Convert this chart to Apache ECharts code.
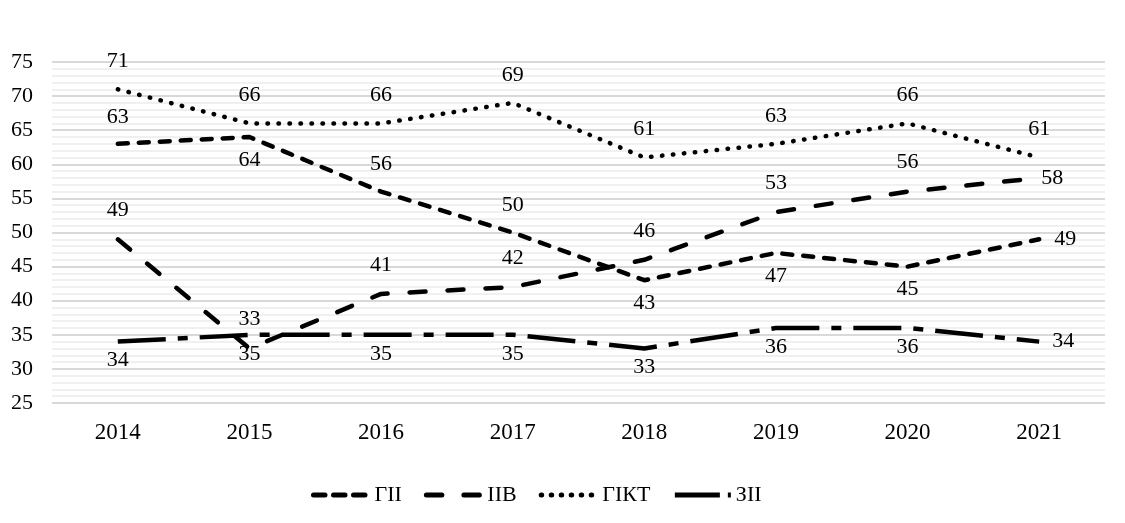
<!DOCTYPE html>
<html><head><meta charset="utf-8">
<script src="https://cdn.jsdelivr.net/npm/echarts@6/dist/echarts.min.js"></script>
<style>html,body{margin:0;padding:0;background:#fff}#c{width:1125px;height:523px}</style>
</head><body><div id="c"></div>
<script>
const years = ['2014','2015','2016','2017','2018','2019','2020','2021'];
const gii  = [63,64,56,50,43,47,45,49];
const iiv  = [49,33,41,42,46,53,56,58];
const gikt = [71,66,66,69,61,63,66,61];
const zii  = [34,35,35,35,33,36,36,34];
const seriesNames = ['ГІІ','ІІВ','ГІКТ','ЗІІ'];
const yTicks = [25,30,35,40,45,50,55,60,65,70,75];

const giiLabelPos  = ['top','bottom','top','top','bottom','bottom','bottom','right'];
const iivLabelPos  = ['top','top','top','top','top','top','top','right'];
const giktLabelPos = ['top','top','top','top','top','top','top','top'];
const ziiLabelPos  = ['bottom','bottom','bottom','bottom','bottom','bottom','bottom','right'];

const FONT = '"Liberation Serif", "Times New Roman", serif';

function mk(name, vals, pos, dist, dash, cap, width) {
  return {
    name: name, type: 'line', symbol: 'circle', symbolSize: 0, showSymbol: true, smooth: false,
    lineStyle: {color: '#000', width: width, type: dash, cap: cap, join: 'round'},
    itemStyle: {color: '#000'},
    data: vals.map((v, i) => ({
      value: v,
      label: {show: true, position: pos[i], distance: dist[pos[i]],
        color: '#000', fontFamily: FONT, fontSize: 22}
    }))
  };
}

const chart = echarts.init(document.getElementById('c'));
chart.setOption({
  animation: false,
  backgroundColor: '#fff',
  grid: {left: 52, right: 20, top: 62, bottom: 120, containLabel: false},
  xAxis: {
    type: 'category', data: years, boundaryGap: true,
    axisLine: {show: false}, axisTick: {show: false},
    axisLabel: {color: '#000', fontFamily: FONT, fontSize: 23, margin: 18},
    splitLine: {show: false}
  },
  yAxis: {
    type: 'value', min: yTicks[0], max: yTicks[yTicks.length-1], interval: 5,
    axisLine: {show: false}, axisTick: {show: false},
    axisLabel: {color: '#000', fontFamily: FONT, fontSize: 22, margin: 19},
    splitLine: {show: true, lineStyle: {color: '#d9d9d9', width: 2}},
    minorTick: {show: false, splitNumber: 5},
    minorSplitLine: {show: true, lineStyle: {color: '#ececec', width: 1.5}}
  },
  legend: {
    bottom: 12, left: 306, itemWidth: 56, itemHeight: 10, itemGap: 22,
    itemStyle: {opacity: 0},
    lineStyle: {width: 5, color: '#000'},
    textStyle: {color: '#000', fontFamily: FONT, fontSize: 22},
    data: [
      {name: seriesNames[0], lineStyle: {type: [11.5, 8.5], cap: 'round', width: 5}},
      {name: seriesNames[1], lineStyle: {type: [15.5, 22], cap: 'round', width: 5}},
      {name: seriesNames[2], lineStyle: {type: [0.5, 9.5], cap: 'round', width: 5}},
      {name: seriesNames[3], lineStyle: {type: [45, 8, 4, 20], cap: 'butt', width: 5}}
    ]
  },
  series: [
    mk(seriesNames[0], gii, giiLabelPos, {top: 16, bottom: 12, right: 15}, [10, 11], 'round', 4.5),
    mk(seriesNames[1], iiv, iivLabelPos, {top: 18, bottom: 12, right: 2}, [16, 22], 'round', 4.5),
    mk(seriesNames[2], gikt, giktLabelPos, {top: 17, bottom: 12, right: 12}, [0.5, 10.5], 'round', 4.5),
    mk(seriesNames[3], zii, ziiLabelPos, {top: 12, bottom: 8, right: 13}, [48, 12, 10, 12], 'butt', 4.5)
  ]
});
</script>
</body></html>
